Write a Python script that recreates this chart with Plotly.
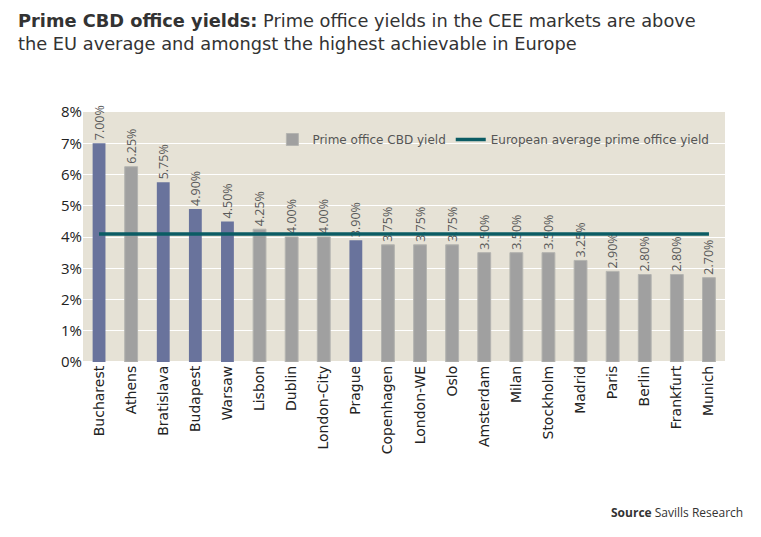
import plotly.graph_objects as go

cities = ["Bucharest", "Athens", "Bratislava", "Budapest", "Warsaw", "Lisbon", "Dublin",
          "London-City", "Prague", "Copenhagen", "London-WE", "Oslo", "Amsterdam", "Milan",
          "Stockholm", "Madrid", "Paris", "Berlin", "Frankfurt", "Munich"]
yields = [7.00, 6.25, 5.75, 4.90, 4.50, 4.25, 4.00, 4.00, 3.90, 3.75, 3.75, 3.75, 3.50, 3.50,
          3.50, 3.25, 2.90, 2.80, 2.80, 2.70]
cee = ["Bucharest", "Bratislava", "Budapest", "Warsaw", "Prague"]
eu_average = 4.1

BLUE = "#69739c"
GREY = "#a0a0a0"
TEAL = "#0b5c64"
WIDE = "DejaVu Sans"

grey_y = [None if c in cee else v for c, v in zip(cities, yields)]
blue_y = [v if c in cee else None for c, v in zip(cities, yields)]
grey_t = [None if c in cee else f"{v:.2f}%" for c, v in zip(cities, yields)]
blue_t = [f"{v:.2f}%" if c in cee else None for c, v in zip(cities, yields)]

label_font = dict(size=12.5, color="#5a5a5a", family="Open Sans")

fig = go.Figure()
fig.add_trace(go.Bar(x=cities, y=grey_y, name="Prime office CBD yield",
                     marker=dict(color=GREY, line=dict(color="#b4b4b0", width=1)),
                     width=0.4, text=grey_t, textposition="outside", textangle=-90,
                     constraintext="none", textfont=label_font, cliponaxis=False))
fig.add_trace(go.Bar(x=cities, y=blue_y, name="CEE", showlegend=False,
                     marker=dict(color=BLUE, line=dict(width=0)),
                     width=0.4, text=blue_t, textposition="outside", textangle=-90,
                     constraintext="none", textfont=label_font, cliponaxis=False))
fig.add_trace(go.Scatter(x=cities, y=[eu_average] * len(cities), mode="lines",
                         name="European average prime office yield",
                         line=dict(color=TEAL, width=3.5)))

fig.update_layout(
    width=761, height=537,
    margin=dict(l=83, r=36, t=112, b=175),
    barmode="overlay",
    paper_bgcolor="white",
    plot_bgcolor="#e6e2d6",
    font=dict(family="Open Sans", color="#333"),
    showlegend=True,
    legend=dict(orientation="h", x=0.295, xanchor="left", y=0.89, yanchor="middle",
                bgcolor="rgba(0,0,0,0)", font=dict(size=12, color="#555", family=WIDE),
                traceorder="normal", itemwidth=30),
    xaxis=dict(tickangle=-90, tickfont=dict(size=14, color="#222", family=WIDE),
               showgrid=False, range=[-0.5, len(cities) - 0.5], ticks=""),
    yaxis=dict(range=[0, 8], dtick=1, ticksuffix="%", gridcolor="white", gridwidth=1,
               tickfont=dict(size=15, color="#222"), zeroline=True, zerolinecolor="white",
               ticks=""),
)

fig.add_annotation(
    text="<b>Prime CBD office yields:</b> Prime office yields in the CEE markets are above<br>the EU average and amongst the highest achievable in Europe",
    xref="paper", yref="paper", x=-(83 - 16) / 642, xanchor="left",
    y=1 + (112 - 8) / 250, yanchor="top", align="left", showarrow=False,
    font=dict(size=17.8, color="#333", family=WIDE))

fig.add_annotation(text="<b>Source</b> Savills Research", xref="paper", yref="paper",
                   x=(745 - 83) / 642, xanchor="right", y=-(512 - 362) / 250, yanchor="middle",
                   showarrow=False, font=dict(size=12, color="#333"))

fig.write_html("out.html")
